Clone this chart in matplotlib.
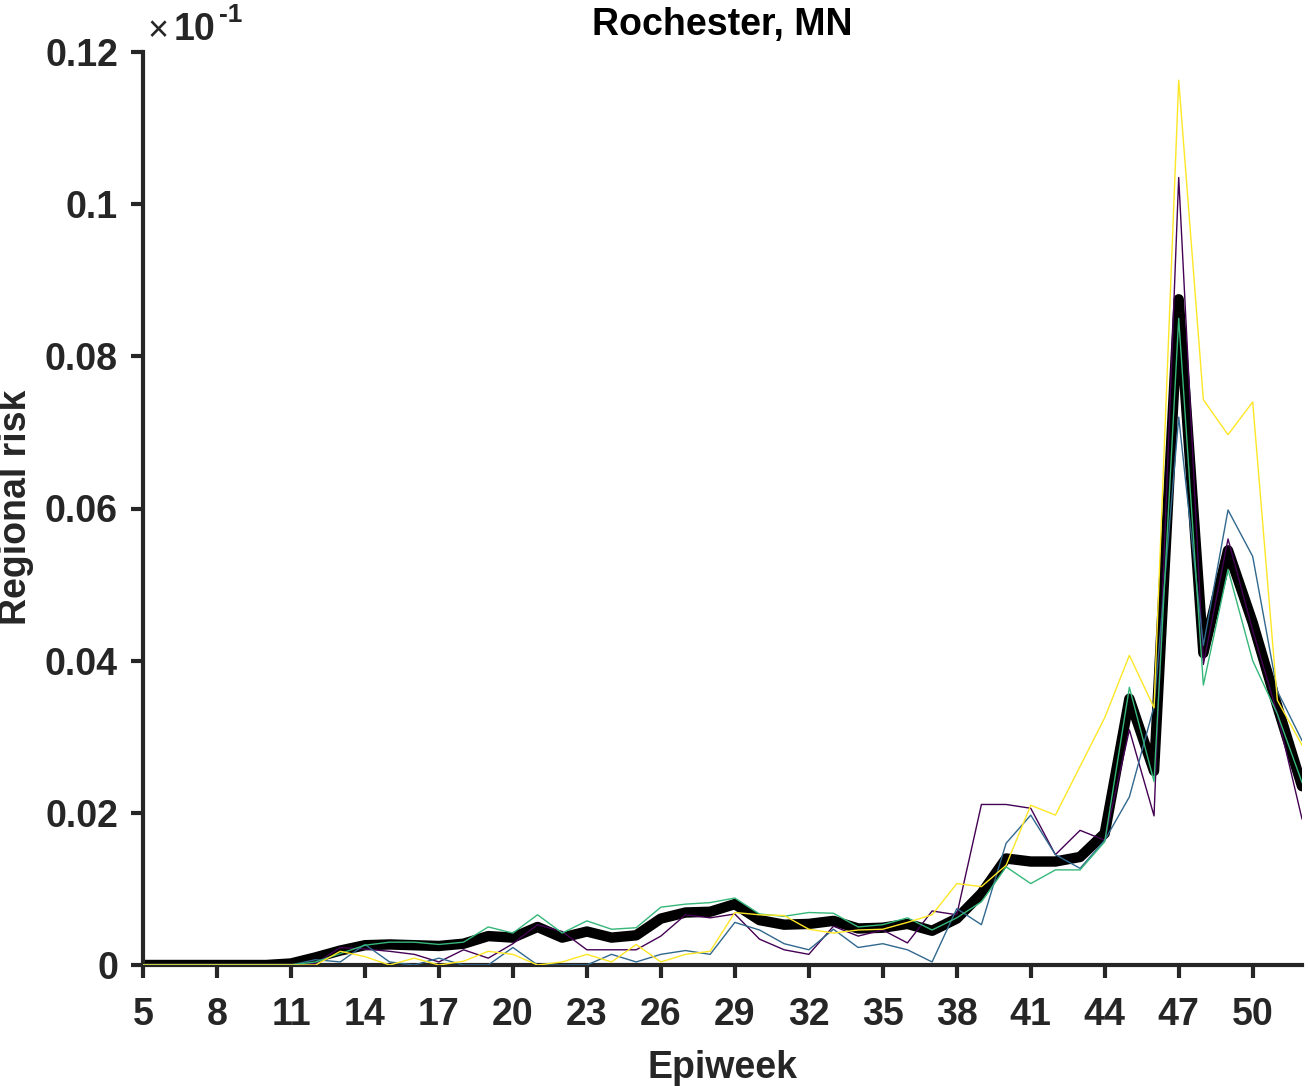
import matplotlib.pyplot as plt

weeks = list(range(5, 53))

purple = [0, 0, 0, 0, 0, 0, 0, 0.0002, 0.0023, 0.0021, 0.0018, 0.0014, 0.0004, 0.0020,
          0.0009, 0.0028, 0.0053, 0.0044, 0.0020, 0.0020, 0.0020, 0.0038, 0.0066, 0.0062,
          0.0067, 0.0034, 0.0020, 0.0014, 0.0051, 0.0038, 0.0046, 0.0029, 0.0071, 0.0066,
          0.0211, 0.0211, 0.0206, 0.0145, 0.0177, 0.0164, 0.0309, 0.0196, 0.1035, 0.0395,
          0.0560, 0.0440, 0.0330, 0.0192]
blue = [0, 0, 0, 0, 0, 0, 0, 0.0007, 0.0004, 0.0027, 0.0004, 0, 0.0009, 0,
        0, 0.0023, 0, 0, 0, 0.0014, 0.0004, 0.0014, 0.0019, 0.0014,
        0.0056, 0.0046, 0.0028, 0.0020, 0.0047, 0.0023, 0.0028, 0.0020, 0.0004, 0.0074,
        0.0053, 0.0160, 0.0197, 0.0145, 0.0127, 0.0164, 0.0221, 0.0340, 0.0720, 0.0420,
        0.0598, 0.0537, 0.0360, 0.0295]
green = [0, 0, 0, 0, 0, 0, 0, 0.0004, 0.0015, 0.0026, 0.0030, 0.0030, 0.0027, 0.0030,
         0.0050, 0.0042, 0.0066, 0.0042, 0.0058, 0.0047, 0.0049, 0.0076, 0.0080, 0.0082,
         0.0088, 0.0067, 0.0064, 0.0069, 0.0068, 0.0050, 0.0053, 0.0062, 0.0046, 0.0062,
         0.0083, 0.0129, 0.0107, 0.0125, 0.0125, 0.0162, 0.0365, 0.0241, 0.0850, 0.0368,
         0.0520, 0.0400, 0.0330, 0.0240]
yellow = [0, 0, 0, 0, 0, 0, 0, 0, 0.0018, 0.0011, 0, 0.0009, 0, 0.0005,
          0.0018, 0.0014, 0, 0.0004, 0.0014, 0.0004, 0.0027, 0.0004, 0.0014, 0.0018,
          0.0069, 0.0066, 0.0065, 0.0047, 0.0042, 0.0046, 0.0047, 0.0056, 0.0066, 0.0107,
          0.0103, 0.0131, 0.0210, 0.0197, 0.0261, 0.0325, 0.0407, 0.0338, 0.1163, 0.0743,
          0.0697, 0.0740, 0.0348, 0.0289]
mean_risk = [0, 0, 0, 0, 0, 0, 0.0002, 0.0010, 0.0019, 0.0026, 0.0027, 0.0026, 0.0025, 0.0028,
             0.0038, 0.0036, 0.0050, 0.0036, 0.0044, 0.0036, 0.0039, 0.0061, 0.0069, 0.0070,
             0.0080, 0.0059, 0.0053, 0.0054, 0.0058, 0.0048, 0.0049, 0.0054, 0.0045, 0.0061,
             0.0094, 0.0140, 0.0136, 0.0136, 0.0142, 0.0173, 0.0350, 0.0255, 0.0875, 0.0410,
             0.0545, 0.0450, 0.0340, 0.0235]

xticks = list(range(5, 51, 3))
yticks = [0, 0.02, 0.04, 0.06, 0.08, 0.1, 0.12]
ytick_labels = ["0", "0.02", "0.04", "0.06", "0.08", "0.1", "0.12"]

plt.rcParams["font.family"] = ["Liberation Sans", "DejaVu Sans"]
plt.rcParams["font.weight"] = "bold"
axis_color = "#262626"

fig = plt.figure(figsize=(13.1, 10.86), dpi=100)
ax = fig.add_axes([143 / 1310, 1 - 965 / 1086, (1302 - 143) / 1310, (965 - 52) / 1086])

ax.plot(weeks, mean_risk, color="black", linewidth=7.5, solid_joinstyle="round",
        solid_capstyle="round", zorder=2)
for series, color in [(purple, "#440154"), (blue, "#31688e"),
                      (green, "#35b779"), (yellow, "#fde725")]:
    ax.plot(weeks, series, color=color, linewidth=1.0, zorder=3)

ax.set_xlim(5, 52)
ax.set_ylim(0, 0.12)
ax.set_xticks(xticks)
ax.set_yticks(yticks)
ax.set_yticklabels(ytick_labels)

for side in ["top", "right"]:
    ax.spines[side].set_visible(False)
for side in ["left", "bottom"]:
    ax.spines[side].set_linewidth(3)
    ax.spines[side].set_color(axis_color)
ax.tick_params(direction="out", length=9, width=3, color=axis_color,
               labelsize=27, labelcolor=axis_color)
ax.tick_params(axis="x", pad=14)
ax.tick_params(axis="y", pad=9)

ax.set_xlabel("Epiweek", fontsize=27, fontweight="bold", color=axis_color, labelpad=12)
ax.set_title("Rochester, MN", fontsize=27, fontweight="bold", color="black", pad=12)
fig.text(16 / 1310, 1 - 507 / 1086, "Regional risk", fontsize=27, fontweight="bold",
         color=axis_color, rotation=90, ha="center", va="center")

fig.text(147 / 1310, 1 - 41 / 1086, "\u00d7", fontsize=26, fontweight="normal",
         color=axis_color, va="baseline")
fig.text(174 / 1310, 1 - 40 / 1086, "10", fontsize=27, fontweight="bold",
         color=axis_color, va="baseline")
fig.text(219 / 1310, 1 - 22 / 1086, "-1", fontsize=19, fontweight="bold",
         color=axis_color, va="baseline")

fig.savefig("out.png", dpi=100)
